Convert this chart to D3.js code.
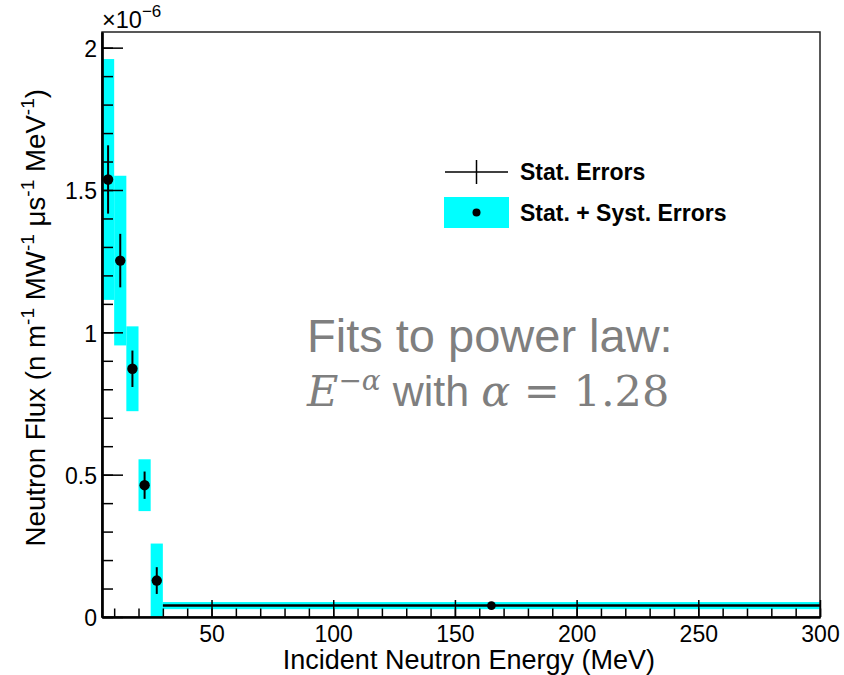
<!DOCTYPE html>
<html>
<head>
<meta charset="utf-8">
<script src="https://cdn.jsdelivr.net/npm/d3@7"></script>
<style>
    body { margin: 0; background: #fff; }
    text { font-family: "Liberation Sans", Arial, Helvetica, sans-serif; }
</style>
</head>
<body>
<svg id="chart" width="844" height="675"></svg>
<script>
// Data: energy bins (MeV) and flux (units of 1e-6)
const binLow = [5, 10, 15, 20, 25, 30];
const binHigh = [10, 15, 20, 25, 30, 300];
const energy = [7.5, 12.5, 17.5, 22.5, 27.5, 165];
const flux = [1.537, 1.252, 0.872, 0.463, 0.128, 0.040];
const statErr = [0.120, 0.094, 0.064, 0.048, 0.047, 0.0];
const totalErr = [0.423, 0.298, 0.149, 0.091, 0.130, 0.0125];
const showXErr = [false, false, false, false, false, true];

// Axis ticks
const xTicks = [50, 100, 150, 200, 250, 300];
const xMinor = d3.range(10, 301, 10);
const yTicks = [0, 0.5, 1, 1.5, 2];
const yMinor = d3.range(0, 2.05, 0.1);

const legendLabels = ["Stat. Errors", "Stat. + Syst. Errors"];

// Set up the SVG container
const svg = d3.select("#chart");
const plotL = 102, plotR = 820, plotT = 32, plotB = 617;

const x = d3.scaleLinear().domain([5, 300]).range([plotL, plotR]);
const y = d3.scaleLinear().domain([0, 2.055]).range([plotB, plotT]);

svg.append("defs").append("clipPath").attr("id", "plotclip")
    .append("rect")
    .attr("x", plotL).attr("y", plotT)
    .attr("width", plotR - plotL).attr("height", plotB - plotT);

const rows = flux.map((v, i) => ({
    lo: binLow[i], hi: binHigh[i], e: energy[i], v: v,
    stat: statErr[i], tot: totalErr[i], xerr: showXErr[i]
}));

// Cyan boxes: stat + syst errors
const plot = svg.append("g").attr("clip-path", "url(#plotclip)");
plot.selectAll(".box")
    .data(rows)
    .enter().append("rect")
    .attr("class", "box")
    .attr("x", d => x(d.lo))
    .attr("width", d => x(d.hi) - x(d.lo))
    .attr("y", d => y(d.v + d.tot))
    .attr("height", d => y(Math.max(d.v - d.tot, -0.01)) - y(d.v + d.tot))
    .attr("fill", "#00ffff");

// Frame
svg.append("rect")
    .attr("x", plotL).attr("y", plotT)
    .attr("width", plotR - plotL).attr("height", plotB - plotT)
    .attr("fill", "none")
    .attr("stroke", "#222")
    .attr("stroke-width", 1.5);

// X axis (ticks drawn inward)
const xAxisMinor = svg.append("g")
    .attr("transform", `translate(0,${plotB})`)
    .call(d3.axisBottom(x).tickValues(xMinor).tickSize(-8.5).tickSizeOuter(0).tickFormat(""));
const xAxis = svg.append("g")
    .attr("transform", `translate(0,${plotB})`)
    .call(d3.axisBottom(x).tickValues(xTicks).tickSize(-17).tickSizeOuter(0).tickPadding(9));

// Y axis
const yAxisMinor = svg.append("g")
    .attr("transform", `translate(${plotL},0)`)
    .call(d3.axisLeft(y).tickValues(yMinor).tickSize(-11).tickSizeOuter(0).tickFormat(""));
const yAxis = svg.append("g")
    .attr("transform", `translate(${plotL},0)`)
    .call(d3.axisLeft(y).tickValues(yTicks).tickSize(-21).tickSizeOuter(0).tickPadding(5)
        .tickFormat(d3.format("~g")));

[xAxisMinor, xAxis, yAxisMinor, yAxis].forEach(g => {
    g.attr("font-family", null).attr("font-size", null);
    g.selectAll(".tick line").attr("stroke", "#000").attr("stroke-width", 1.5);
    g.select(".domain").attr("stroke", "#000").attr("stroke-width", 2.2);
    g.selectAll("text").attr("fill", "#000").style("font-size", "23px");
});
yAxis.selectAll("text").attr("dy", "0.38em");
xAxis.selectAll("text").attr("dy", "0.68em");

// Stat error bars
const bars = svg.append("g");
bars.selectAll(".stat")
    .data(rows.filter(d => d.stat > 0))
    .enter().append("line")
    .attr("x1", d => x(d.e)).attr("x2", d => x(d.e))
    .attr("y1", d => y(d.v + d.stat)).attr("y2", d => y(d.v - d.stat))
    .attr("stroke", "#000").attr("stroke-width", 2);

bars.selectAll(".xerr")
    .data(rows.filter(d => d.xerr))
    .enter().append("line")
    .attr("x1", d => x(d.lo)).attr("x2", d => x(d.hi))
    .attr("y1", d => y(d.v)).attr("y2", d => y(d.v))
    .attr("stroke", "#000").attr("stroke-width", 2.5);

bars.selectAll("circle")
    .data(rows)
    .enter().append("circle")
    .attr("cx", d => x(d.e))
    .attr("cy", d => y(d.v))
    .attr("r", (d, i) => i === rows.length - 1 ? 4.4 : 5.2)
    .attr("fill", "#000");

// Axis titles
svg.append("text")
    .attr("x", 655).attr("y", 669)
    .attr("text-anchor", "end")
    .style("font-size", "27px")
    .text("Incident Neutron Energy (MeV)");

const yTitle = svg.append("text")
    .attr("transform", "translate(45,89) rotate(-90)")
    .attr("text-anchor", "end")
    .style("font-size", "27.7px");
const yParts = [["Neutron Flux (n m", false], ["-1", true], [" MW", false], ["-1", true],
    [" \u03bcs", false], ["-1", true], [" MeV", false], ["-1", true], [")", false]];
yParts.forEach(([t, sup], i) => {
    const prevSup = i > 0 && yParts[i - 1][1];
    yTitle.append("tspan")
        .attr("dy", sup ? -11 : (prevSup ? 11 : 0))
        .style("font-size", sup ? "19px" : "27.7px")
        .text(t);
});

// Exponent label
const expo = svg.append("text").attr("x", plotL).attr("y", 28).style("font-size", "23.5px");
expo.append("tspan").text("\u00d710");
expo.append("tspan").attr("dy", -11).style("font-size", "17px").text("\u22126");

// Legend
const legend = svg.append("g");
legend.append("line").attr("x1", 445).attr("x2", 508).attr("y1", 172).attr("y2", 172)
    .attr("stroke", "#000").attr("stroke-width", 1.5);
legend.append("line").attr("x1", 476.5).attr("x2", 476.5).attr("y1", 160).attr("y2", 184)
    .attr("stroke", "#000").attr("stroke-width", 1.5);
legend.append("rect").attr("x", 444).attr("y", 197).attr("width", 65).attr("height", 31)
    .attr("fill", "#00ffff");
legend.append("circle").attr("cx", 476.5).attr("cy", 212.5).attr("r", 4).attr("fill", "#000");
legend.selectAll(".lab")
    .data(legendLabels)
    .enter().append("text")
    .attr("x", 520)
    .attr("y", (d, i) => 180 + i * 41)
    .style("font-size", "23px")
    .style("font-weight", "bold")
    .text(d => d);

// Fit annotation
svg.append("text")
    .attr("x", 307).attr("y", 352)
    .attr("fill", "#7f7f7f")
    .style("font-size", "47px")
    .text("Fits to power law:");

const fit = svg.append("text")
    .attr("x", 307).attr("y", 406)
    .attr("fill", "#7f7f7f")
    .style("font-size", "43px");
fit.append("tspan").style("font-family", "'DejaVu Serif', serif").style("font-style", "italic").text("E");
fit.append("tspan").attr("dy", -16).style("font-family", "'DejaVu Serif', serif")
    .style("font-size", "28px").style("font-style", "italic").text("\u2212\u03b1");
fit.append("tspan").attr("dy", 16).text(" with ");
fit.append("tspan").style("font-family", "'DejaVu Serif', serif").style("font-style", "italic").text("\u03b1");
fit.append("tspan").style("font-family", "'DejaVu Serif', serif").text(" = 1.28");
</script>
</body>
</html>
